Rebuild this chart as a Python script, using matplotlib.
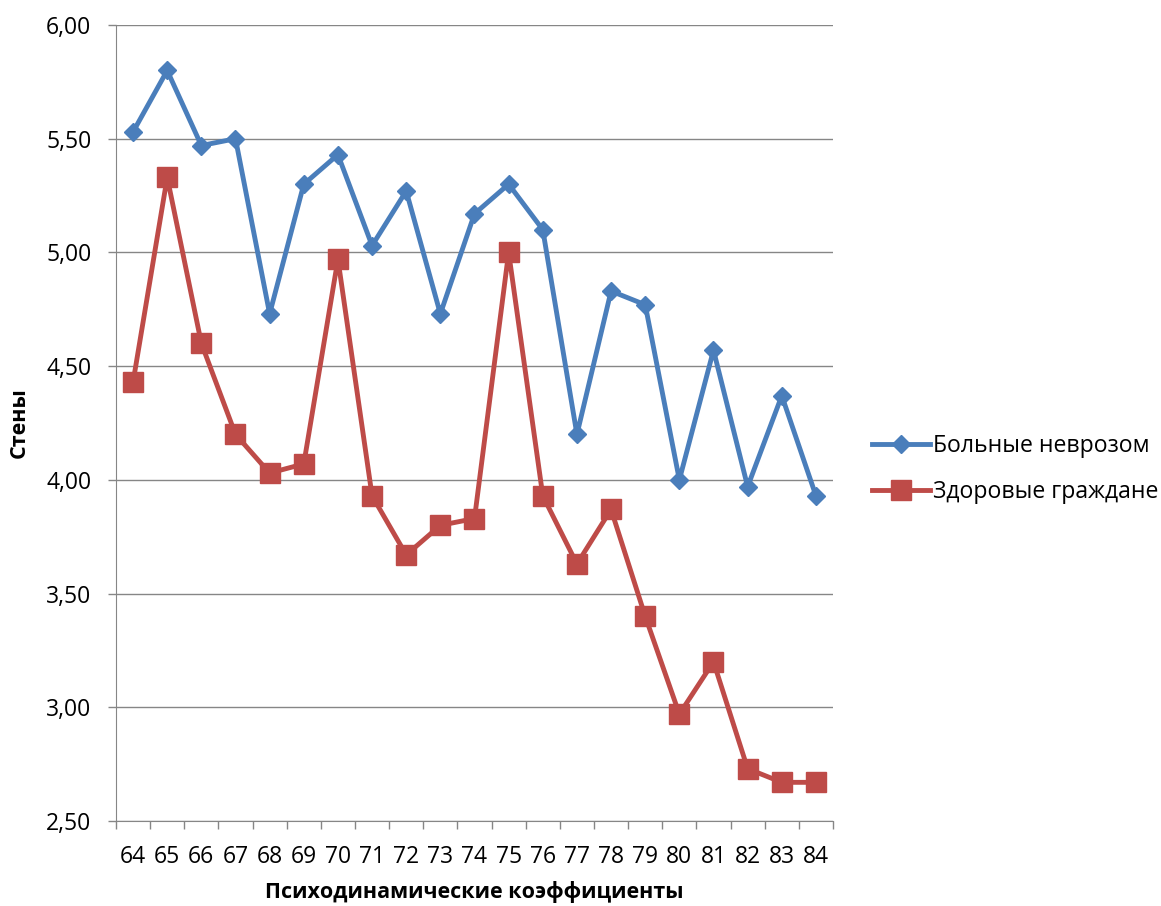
import matplotlib
matplotlib.use("Agg")
import matplotlib.pyplot as plt
from matplotlib.ticker import FixedLocator, FuncFormatter

plt.rcParams['font.family'] = ['Open Sans', 'DejaVu Sans']

coeffs = list(range(64, 85))
neurosis = [5.53, 5.80, 5.47, 5.50, 4.73, 5.30, 5.43, 5.03, 5.27, 4.73, 5.17,
            5.30, 5.10, 4.20, 4.83, 4.77, 4.00, 4.57, 3.97, 4.37, 3.93]
healthy = [4.43, 5.33, 4.60, 4.20, 4.03, 4.07, 4.97, 3.93, 3.67, 3.80, 3.83,
           5.00, 3.93, 3.63, 3.87, 3.40, 2.97, 3.20, 2.73, 2.67, 2.67]

fig = plt.figure(figsize=(11.61, 9.06), dpi=100)
ax = fig.add_axes([116 / 1161, 1 - 821 / 906, 717 / 1161, 796 / 906])

x = range(len(coeffs))
ax.plot(x, neurosis, color='#4A7EBB', lw=3.5, marker='D', ms=9,
        label='Больные неврозом', zorder=3)
ax.plot(x, healthy, color='#BE4B48', lw=3.5, marker='s', ms=14,
        label='Здоровые граждане', zorder=3)

ax.set_xlim(-0.5, len(coeffs) - 0.5)
ax.set_ylim(2.5, 6.0)
ax.set_xticks(list(x))
ax.set_xticklabels([str(c) for c in coeffs], fontsize=16.5)
ax.xaxis.set_minor_locator(FixedLocator([i - 0.5 for i in range(len(coeffs) + 1)]))
ax.tick_params(axis='x', which='major', length=0, pad=17)
ax.tick_params(axis='x', which='minor', length=5.8, color='#868686', width=1)
ax.set_yticks([2.5 + 0.5 * i for i in range(8)])
ax.yaxis.set_major_formatter(FuncFormatter(lambda v, p: f"{v:.2f}".replace('.', ',')))
ax.tick_params(axis='y', labelsize=16.5, length=5.8, color='#868686', width=1, pad=12)

ax.grid(axis='y', color='#868686', lw=1)
ax.set_axisbelow(True)
for s in ['top', 'right']:
    ax.spines[s].set_visible(False)
for s in ['left', 'bottom']:
    ax.spines[s].set_color('#868686')

ax.set_xlabel('Психодинамические коэффициенты', fontsize=15.5, fontweight='bold', labelpad=9)
ax.set_ylabel('Стены', fontsize=15.5, fontweight='bold', labelpad=12)

ax.legend(loc='center left', bbox_to_anchor=(872 / 1161, 1 - 469 / 906),
          bbox_transform=fig.transFigure, frameon=False, fontsize=16.6,
          handlelength=2.5, labelspacing=0.95, borderaxespad=0, borderpad=0,
          handletextpad=0.15)

fig.savefig('out.png', dpi=100)
